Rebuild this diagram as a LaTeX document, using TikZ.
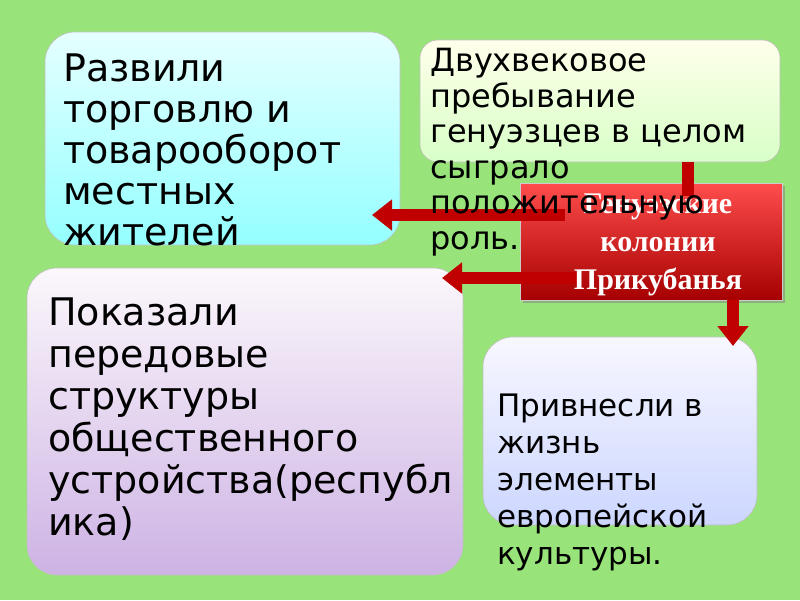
\documentclass[tikz,border=0pt]{standalone}
\usepackage{fontspec}
\setmainfont{DejaVu Sans}
\newfontfamily\serifb{Liberation Serif}
\usetikzlibrary{arrows.meta,shadows}
\definecolor{bg}{HTML}{98E47A}
\definecolor{arr}{HTML}{C00000}
\tikzset{
 rbox/.style={draw=black!25,line width=0.6pt,rounded corners=30pt},
 redarrow/.style={draw=arr,line width=12pt,-{Triangle[length=20pt,width=30pt]}},
 txt/.style={anchor=north west,align=left,inner sep=0pt},
}
\begin{document}
\begin{tikzpicture}[x=1pt,y=-1pt]
\fill[bg] (0,0) rectangle (800,600);
\useasboundingbox (0,0) rectangle (800,600);
% boxes
\shade[rbox,top color=cyan!10,bottom color=cyan!42] (45,32) rectangle (400,245);
\shade[rbox,rounded corners=18pt,top color=yellow!8,bottom color=yellow!30!green!22] (420,40) rectangle (780,162);
\shade[rbox,top color=violet!3!white,bottom color=blue!30!violet!30] (27,268) rectangle (463,575);
\shade[rbox,top color=blue!3,bottom color=cyan!20!blue!20] (483,337) rectangle (757,525);
\shade[draw=black!20,top color=red!70,bottom color=red!65!black,drop shadow] (520,183) rectangle (782,300);
% arrows
\coordinate (a1s) at (565,215); \coordinate (a1e) at (372,215);
\coordinate (a2s) at (578,278); \coordinate (a2e) at (442,278);
\coordinate (a3s) at (688,162); \coordinate (a3e) at (688,196);
\coordinate (a4s) at (733,300); \coordinate (a4e) at (733,346);
\draw[redarrow] (a1s) -- (a1e);
\draw[redarrow] (a2s) -- (a2e);
\draw[arr,line width=12pt] (a3s) -- (a3e);
\draw[redarrow] (a4s) -- (a4e);
% red box text
\node[font=\serifb\bfseries\fontsize{30}{38}\selectfont,text=white,align=center] (red) at (658,245) {Генуэзские\\колонии\\Прикубанья};
% texts
\node[txt,font=\fontsize{38}{41}\selectfont] (t1) at (63,54) {Развили\\торговлю и\\товарооборот\\местных\\жителей};
\node[txt,font=\fontsize{32}{35.6}\selectfont] (t2) at (430,48) {Двухвековое\\пребывание\\генуэзцев в целом\\сыграло\\положительную\\роль.};
\node[txt,font=\fontsize{38}{42}\selectfont] (t3) at (48,298) {Показали\\передовые\\структуры\\общественного\\устройства(республ\\ика)};
\node[txt,font=\fontsize{31}{37}\selectfont] (t4) at (497,394) {Привнесли в\\жизнь\\элементы\\европейской\\культуры.};
\end{tikzpicture}
\end{document}
